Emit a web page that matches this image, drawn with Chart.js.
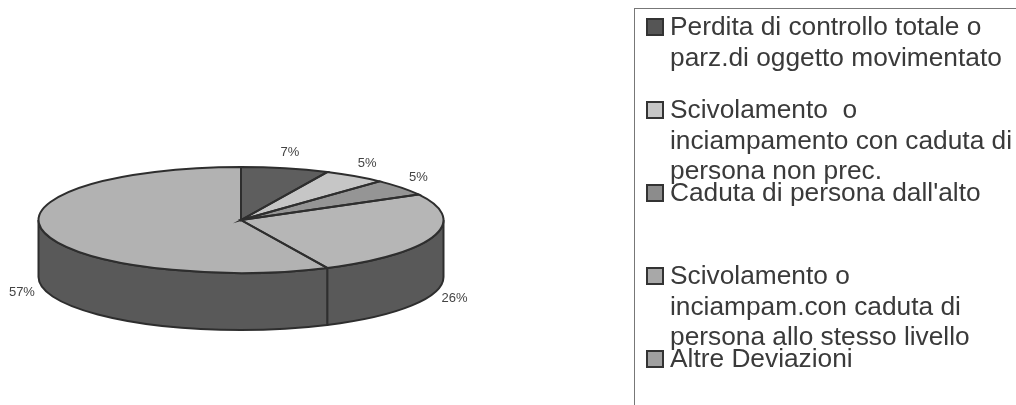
<!DOCTYPE html>
<html>
<head>
<meta charset="utf-8">
<script src="https://cdn.jsdelivr.net/npm/chart.js@4"></script>
<style>
  html, body { margin: 0; padding: 0; background: #fff; }
  body { width: 1016px; height: 405px; overflow: hidden; position: relative; font-family: "Liberation Sans", Arial, sans-serif; filter: blur(0.5px); }
  #pie { position: absolute; left: 0; top: 0; }
  #legend { position: absolute; left: 634px; top: 8px; width: 500px; height: 500px; border: 1px solid #777; box-sizing: border-box; padding-top: 2px; color: #3a3a3a; font-size: 26.3px; line-height: 30.5px; }
  .item { position: relative; height: 83px; padding-left: 35px; white-space: pre; }
  .swatch { position: absolute; left: 11px; top: 7px; width: 14px; height: 14px; border: 2px solid #333; }
</style>
</head>
<body>
<canvas id="pie" width="1016" height="405"></canvas>
<div id="legend"></div>
<script>
// dati del grafico
const categories = [
  ['Perdita di controllo totale o', 'parz.di oggetto movimentato'],
  ['Scivolamento  o', 'inciampamento con caduta di', 'persona non prec.'],
  ["Caduta di persona dall'alto"],
  ['Scivolamento o', 'inciampam.con caduta di', 'persona allo stesso livello'],
  ['Altre Deviazioni']
];
const values = [7, 5, 5, 26, 57];
const sliceColors = ['#5e5e5e', '#c6c6c6', '#959595', '#b6b6b6', '#b2b2b2'];
const legendColors = ['#555555', '#c6c6c6', '#8c8c8c', '#a8a8a8', '#a0a0a0'];

// vista "3D": il cerchio viene schiacciato e gli si aggiunge il bordo laterale
const squash = 53 / 202.5;
const depth = 57;
const centerY = 220;
const wallColor = '#595959';
const edgeColor = '#2e2e2e';

function applySquash(ctx, arc) {
  ctx.translate(arc.x, centerY);
  ctx.scale(1, squash);
  ctx.translate(-arc.x, -arc.y);
}

const pie3d = {
  id: 'pie3d',
  beforeDatasetDraw(chart, args) {
    const ctx = chart.ctx;
    // parete laterale, solo la meta' anteriore
    args.meta.data.forEach(arc => {
      const a0 = Math.max(arc.startAngle, 0);
      const a1 = Math.min(arc.endAngle, Math.PI);
      if (a1 <= a0) return;
      const ry = arc.outerRadius * squash;
      ctx.beginPath();
      ctx.ellipse(arc.x, centerY, arc.outerRadius, ry, 0, a0, a1);
      ctx.ellipse(arc.x, centerY + depth, arc.outerRadius, ry, 0, a1, a0, true);
      ctx.closePath();
      ctx.fillStyle = wallColor;
      ctx.fill();
      ctx.strokeStyle = edgeColor;
      ctx.lineWidth = 2;
      ctx.stroke();
    });
    ctx.save();
    applySquash(ctx, args.meta.data[0]);
  },
  afterDatasetDraw(chart, args) {
    const ctx = chart.ctx;
    ctx.restore();
    args.meta.data.forEach((arc, i) => {
      // contorno: il tracciato e' schiacciato, il tratto no
      ctx.save();
      applySquash(ctx, arc);
      ctx.beginPath();
      ctx.moveTo(arc.x, arc.y);
      ctx.arc(arc.x, arc.y, arc.outerRadius, arc.startAngle, arc.endAngle);
      ctx.closePath();
      ctx.restore();
      ctx.strokeStyle = edgeColor;
      ctx.lineWidth = 2;
      ctx.stroke();

      // etichette percentuali
      const mid = (arc.startAngle + arc.endAngle) / 2;
      const sin = Math.sin(mid + Math.PI / 2);
      const cos = Math.cos(mid + Math.PI / 2);
      let x = arc.x + arc.outerRadius * Math.cos(mid) + sin * 22;
      let y = centerY + arc.outerRadius * squash * Math.sin(mid) - cos * 16;
      if (Math.sin(mid) > 0) y += depth;
      ctx.fillStyle = '#444';
      ctx.font = '13px "Liberation Sans", Arial, sans-serif';
      ctx.textAlign = 'center';
      ctx.textBaseline = 'middle';
      ctx.fillText(values[i] + '%', x, y);
    });
  }
};

new Chart(document.getElementById('pie').getContext('2d'), {
  type: 'pie',
  data: {
    labels: categories.map(c => c.join(' ')),
    datasets: [{
      data: values,
      backgroundColor: sliceColors,
      borderWidth: 0,
      clip: false
    }]
  },
  options: {
    responsive: false,
    animation: false,
    events: [],
    layout: { padding: { right: 534 } },
    plugins: {
      legend: { display: false },
      tooltip: { enabled: false }
    }
  },
  plugins: [pie3d]
});

// legenda a parte perche' le voci vanno su piu' righe
const legend = document.getElementById('legend');
categories.forEach((lines, i) => {
  const item = document.createElement('div');
  item.className = 'item';
  item.textContent = lines.join('\n');
  const swatch = document.createElement('span');
  swatch.className = 'swatch';
  swatch.style.background = legendColors[i];
  item.appendChild(swatch);
  legend.appendChild(item);
});
</script>
</body>
</html>
